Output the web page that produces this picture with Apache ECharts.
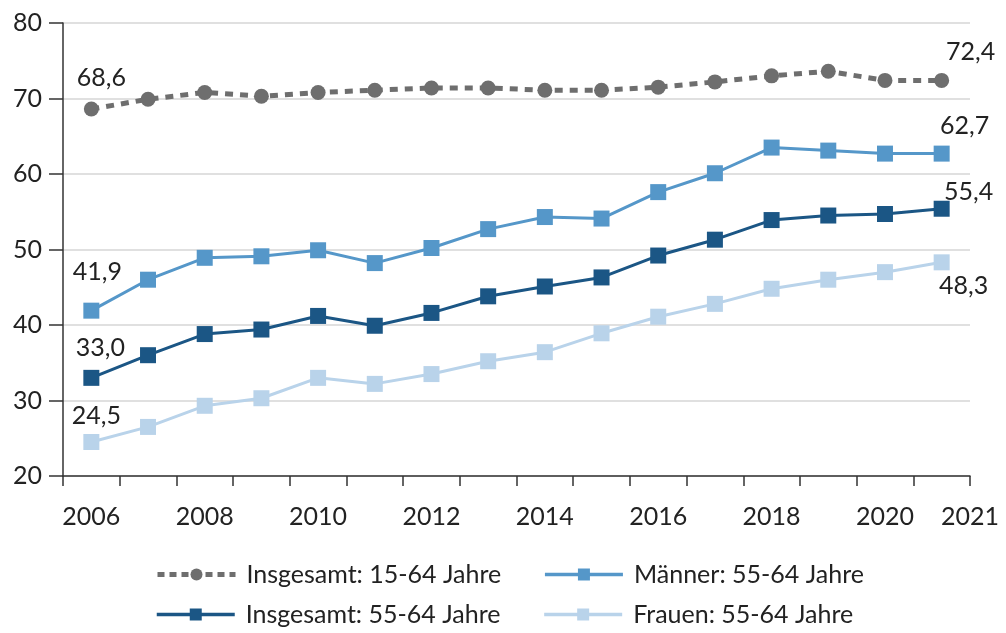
<!DOCTYPE html>
<html>
<head>
<meta charset="utf-8">
<script src="https://cdn.jsdelivr.net/npm/echarts@6/dist/echarts.min.js"></script>
<style>
  html, body { margin: 0; padding: 0; background: #fff; }
  #chart { width: 1006px; height: 633px; }
</style>
</head>
<body>
<div id="chart"></div>
<script>
const years = ['2006', '2007', '2008', '2009', '2010', '2011', '2012', '2013',
  '2014', '2015', '2016', '2017', '2018', '2019', '2020', '2021'];
const lastTickLabel = '2021';

const gesamt1564 = [68.6, 69.9, 70.8, 70.3, 70.8, 71.1, 71.4, 71.4, 71.1, 71.1, 71.5, 72.2, 73.0, 73.6, 72.4, 72.4];
const maenner5564 = [41.9, 46.0, 48.9, 49.1, 49.9, 48.2, 50.2, 52.7, 54.3, 54.1, 57.6, 60.1, 63.5, 63.1, 62.7, 62.7];
const gesamt5564 = [33.0, 36.0, 38.8, 39.4, 41.2, 39.9, 41.6, 43.8, 45.1, 46.3, 49.2, 51.3, 53.9, 54.5, 54.7, 55.4];
const frauen5564 = [24.5, 26.5, 29.3, 30.3, 33.0, 32.2, 33.5, 35.2, 36.4, 38.9, 41.1, 42.8, 44.8, 46.0, 47.0, 48.3];

const FONT = 'Lato';
const TEXT = '#222';
const FS = 25;

const fmt = v => v.toFixed(1).replace('.', ',');

// nur erster und letzter Punkt bekommen ein Label
function withEndLabels(values, firstOffset, lastOffset) {
  return values.map((v, i) => {
    if (i === 0 || i === values.length - 1) {
      return {
        value: v,
        label: {
          show: true,
          position: 'inside',
          offset: i === 0 ? firstOffset : lastOffset,
          formatter: p => fmt(p.value),
          fontFamily: FONT,
          fontSize: FS,
          color: TEXT
        }
      };
    }
    return v;
  });
}

const chart = echarts.init(document.getElementById('chart'));

const legendText = { fontFamily: FONT, fontSize: FS, color: TEXT, padding: [0, 0, 0, 6] };

chart.setOption({
  animation: false,
  grid: { left: 63, right: 36, top: 23, bottom: 157 },
  legend: [
    {
      data: [
        { name: 'Insgesamt: 15-64 Jahre', lineStyle: { width: 5, type: [7, 5] } },
        { name: 'Männer: 55-64 Jahre', lineStyle: { width: 3.5 } }
      ],
      left: 150, top: 557,
      itemWidth: 78, itemHeight: 15, itemGap: 42,
      textStyle: legendText
    },
    {
      data: [
        { name: 'Insgesamt: 55-64 Jahre', lineStyle: { width: 3.5 } },
        { name: 'Frauen: 55-64 Jahre', lineStyle: { width: 3.5 } }
      ],
      left: 150, top: 597,
      itemWidth: 78, itemHeight: 15, itemGap: 42,
      textStyle: legendText
    }
  ],
  xAxis: [
    {
      type: 'category',
      data: years,
      boundaryGap: true,
      axisLine: { lineStyle: { color: '#333', width: 1.5 } },
      axisTick: { show: true, interval: 0, length: 10, lineStyle: { color: '#333', width: 1.5 } },
      axisLabel: {
        interval: (i) => i % 2 === 0 && i < years.length - 1,
        margin: 28,
        fontFamily: FONT, fontSize: FS, color: TEXT
      },
      splitLine: { show: false }
    },
    {
      type: 'value',
      position: 'bottom',
      min: 0, max: 1, interval: 1,
      axisLine: { show: false },
      axisTick: { show: false },
      splitLine: { show: false },
      axisLabel: {
        margin: 28,
        formatter: v => (v === 1 ? lastTickLabel : ''),
        fontFamily: FONT, fontSize: FS, color: TEXT
      }
    }
  ],
  yAxis: {
    type: 'value',
    min: 20, max: 80, interval: 10,
    axisLine: { show: true, lineStyle: { color: '#333', width: 1.5 } },
    axisTick: { show: true, length: 14, lineStyle: { color: '#333', width: 1.5 } },
    axisLabel: { margin: 21, fontFamily: FONT, fontSize: FS, color: TEXT },
    splitLine: { lineStyle: { color: '#d6d6d6', width: 1.5 } }
  },
  series: [
    {
      name: 'Insgesamt: 15-64 Jahre',
      type: 'line',
      data: withEndLabels(gesamt1564, [10, -31], [29, -28]),
      symbol: 'circle', symbolSize: 15,
      lineStyle: { color: '#6e6e6e', width: 5, type: [8, 7] },
      itemStyle: { color: '#6e6e6e' },
      z: 5
    },
    {
      name: 'Männer: 55-64 Jahre',
      type: 'line',
      data: withEndLabels(maenner5564, [6, -39], [23, -28]),
      symbol: 'rect', symbolSize: 16,
      lineStyle: { color: '#5597c9', width: 3 },
      itemStyle: { color: '#5597c9' }
    },
    {
      name: 'Insgesamt: 55-64 Jahre',
      type: 'line',
      data: withEndLabels(gesamt5564, [9, -30], [27, -17]),
      symbol: 'rect', symbolSize: 16,
      lineStyle: { color: '#1b5685', width: 3 },
      itemStyle: { color: '#1b5685' }
    },
    {
      name: 'Frauen: 55-64 Jahre',
      type: 'line',
      data: withEndLabels(frauen5564, [5, -26], [22, 24]),
      symbol: 'rect', symbolSize: 16,
      lineStyle: { color: '#b9d3ea', width: 3 },
      itemStyle: { color: '#b9d3ea' }
    }
  ]
});
</script>
</body>
</html>
